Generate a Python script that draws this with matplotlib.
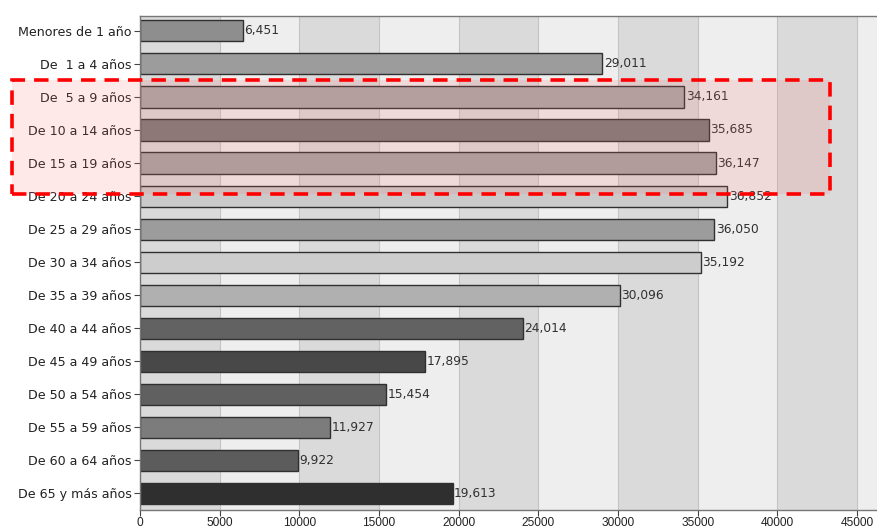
import matplotlib.pyplot as plt
from matplotlib.patches import Rectangle

plt.rcParams['font.family'] = ['DejaVu Sans']

grupos = ['Menores de 1 año', 'De  1 a 4 años', 'De  5 a 9 años', 'De 10 a 14 años',
          'De 15 a 19 años', 'De 20 a 24 años', 'De 25 a 29 años', 'De 30 a 34 años',
          'De 35 a 39 años', 'De 40 a 44 años', 'De 45 a 49 años', 'De 50 a 54 años',
          'De 55 a 59 años', 'De 60 a 64 años', 'De 65 y más años']
poblacion = [6451, 29011, 34161, 35685, 36147, 36852, 36050, 35192,
             30096, 24014, 17895, 15454, 11927, 9922, 19613]
colores = ['#8e8e8e', '#9c9c9c', '#a8a8a8', '#7a7a7a', '#a5a5a5', '#cacaca', '#9c9c9c',
           '#cdcdcd', '#b0b0b0', '#626262', '#484848', '#606060', '#7c7c7c', '#5c5c5c',
           '#2f2f2f']
ticks_x = [0, 5000, 10000, 15000, 20000, 25000, 30000, 35000, 40000, 45000]

fig = plt.figure(figsize=(8.77, 5.26), dpi=100)
ax = fig.add_axes([140 / 877, 16 / 526, 737 / 877, 494 / 526])

xmax = 46250
# alternating vertical bands between ticks
for i, t in enumerate(ticks_x):
    ax.axvspan(t, t + 5000, color='#dadada' if i % 2 == 0 else '#eeeeee', zorder=0, lw=0)
    ax.axvline(t, color='#c4c4c4', lw=0.8, zorder=0.5)

y = list(range(len(grupos)))
ax.barh(y, poblacion, height=0.64, color=colores, edgecolor='#303030', linewidth=1.0, zorder=2)
for yi, v in zip(y, poblacion):
    ax.text(v + 100, yi, f'{v:,}', va='center', ha='left', fontsize=8.8, color='#303030', zorder=3)

ax.set_yticks(y)
ax.set_yticklabels(grupos, fontsize=9.1, color='#222222')
ax.set_xticks(ticks_x)
ax.set_xticklabels([str(t) for t in ticks_x], family='Liberation Sans', fontsize=8.6,
                   color='#222222')
ax.set_xlim(0, xmax)
ax.set_ylim(len(grupos) - 0.5, -0.45)
ax.tick_params(axis='y', length=4, color='#444444', pad=2)
ax.tick_params(axis='x', length=4, color='#444444', pad=1)
for s in ['left', 'bottom', 'top']:
    ax.spines[s].set_color('#777777')
    ax.spines[s].set_linewidth(1.0)
ax.spines['right'].set_visible(False)

# highlighted age groups
fig.patches.append(Rectangle((12 / 877, 1 - 194 / 526), 818 / 877, 114 / 526,
                             transform=fig.transFigure, facecolor='#ff6666', alpha=0.15,
                             edgecolor='none', zorder=5))
fig.patches.append(Rectangle((12 / 877, 1 - 194 / 526), 818 / 877, 114 / 526,
                             transform=fig.transFigure, facecolor='none',
                             edgecolor='#ff0000', lw=2.6, linestyle=(0, (4, 2.5)), zorder=6))

fig.savefig('out.png', dpi=100)
